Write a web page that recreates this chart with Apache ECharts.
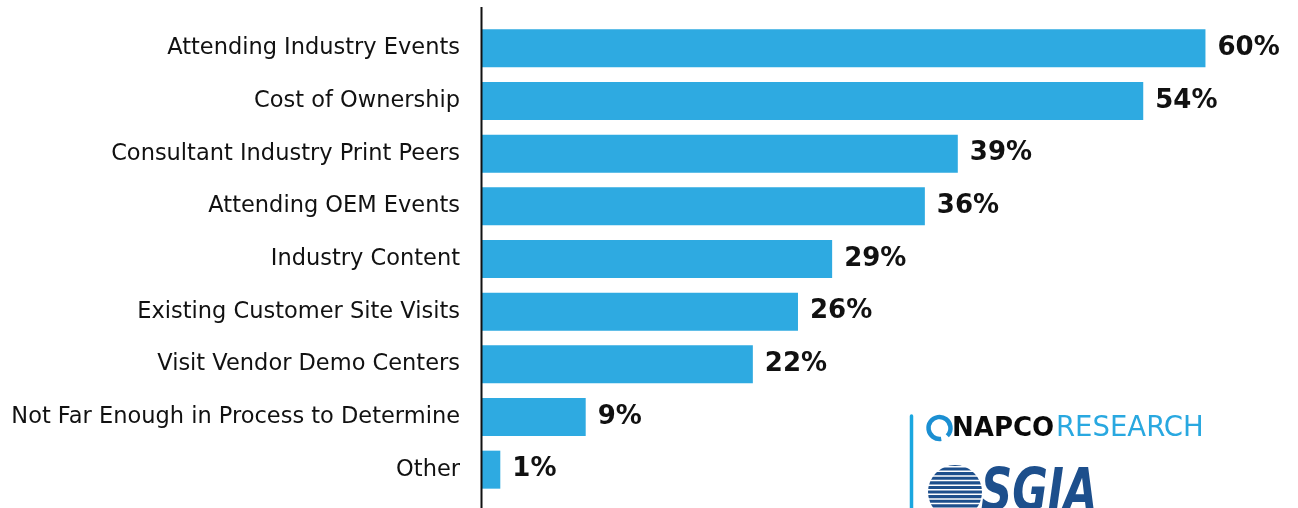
<!DOCTYPE html>
<html>
<head>
<meta charset="utf-8">
<script src="https://cdn.jsdelivr.net/npm/echarts@6/dist/echarts.min.js"></script>
<style>
  html, body { margin: 0; padding: 0; background: #ffffff; }
  #chart { width: 1298px; height: 508px; }
</style>
</head>
<body>
<div id="chart"></div>
<script>
// Categories (top to bottom)
const categories = [
  'Attending Industry Events',
  'Cost of Ownership',
  'Consultant Industry Print Peers',
  'Attending OEM Events',
  'Industry Content',
  'Existing Customer Site Visits',
  'Visit Vendor Demo Centers',
  'Not Far Enough in Process to Determine',
  'Other'
];
// Bar lengths (percent)
const values = [59.3, 54.2, 39.0, 36.3, 28.7, 25.9, 22.2, 8.5, 1.5];
// Printed value labels
const valueLabels = ['60%', '54%', '39%', '36%', '29%', '26%', '22%', '9%', '1%'];

const chart = echarts.init(document.getElementById('chart'), null, { renderer: 'canvas' });

const globeStripes = [];
for (let i = 0; i < 10; i++) {
  globeStripes.push({
    type: 'rect',
    shape: { x: 924, y: 466 + i * 4.6, width: 64, height: 1.5 },
    style: { fill: '#ffffff' },
    z: 12
  });
}

chart.setOption({
  animation: false,
  backgroundColor: '#ffffff',
  grid: { left: 482, right: 23, top: 22, bottom: 12, containLabel: false },
  xAxis: {
    type: 'value',
    min: 0,
    max: 65,
    show: false
  },
  yAxis: {
    type: 'category',
    inverse: true,
    data: categories,
    axisLine: { show: false },
    axisTick: { show: false },
    splitLine: { show: false },
    axisLabel: {
      margin: 22,
      color: '#111111',
      fontSize: 22.5,
      fontFamily: 'DejaVu Sans',
      fontWeight: 'normal',
      padding: [0, 0, 4, 0]
    }
  },
  series: [{
    type: 'bar',
    data: values,
    barWidth: 38,
    itemStyle: { color: '#2eaae1' },
    label: {
      show: true,
      position: 'right',
      distance: 12,
      color: '#111111',
      fontSize: 26,
      fontWeight: 'bold',
      fontFamily: 'DejaVu Sans',
      formatter: p => valueLabels[p.dataIndex]
    }
  }],
  graphic: [
    // vertical axis line
    { type: 'line', shape: { x1: 481.5, y1: 7, x2: 481.5, y2: 508 },
      style: { stroke: '#111111', lineWidth: 2 }, z: 20 },
    // logo divider
    { type: 'line', shape: { x1: 911.5, y1: 416, x2: 911.5, y2: 508 },
      style: { stroke: '#1aa7e0', lineWidth: 3.5, lineCap: 'round' }, z: 10 },
    // NAPCO ring
    { type: 'arc', shape: { cx: 939.5, cy: 428, r: 11, startAngle: Math.PI * 0.45, endAngle: Math.PI * 2.25 },
      style: { stroke: '#1b8fd2', lineWidth: 4.5, fill: null }, z: 10 },
    { type: 'text', x: 952, y: 429,
      style: { text: 'NAPCO', fill: '#0a0a0a', fontSize: 26, fontWeight: 'bold',
        fontFamily: 'DejaVu Sans', verticalAlign: 'middle', align: 'left' }, z: 10 },
    { type: 'text', x: 1056, y: 429,
      style: { text: 'RESEARCH', fill: '#29a8e0', fontSize: 27.5, fontWeight: 'normal',
        fontFamily: 'DejaVu Sans', verticalAlign: 'middle', align: 'left' }, z: 10 },
    // SGIA globe
    { type: 'circle', shape: { cx: 955, cy: 492, r: 27 }, style: { fill: '#1d4f8c' }, z: 11 },
    ...globeStripes,
    { type: 'text', x: 981, y: 524, scaleX: 0.83, originX: 0, originY: 0,
      style: { text: 'SGIA', fill: '#1d4f8c', fontSize: 58, fontWeight: 'bold', fontStyle: 'italic',
        fontFamily: '"DejaVu Sans Condensed", "DejaVu Sans", "Liberation Sans"',
        verticalAlign: 'bottom', align: 'left' }, z: 13 }
  ]
});
</script>
</body>
</html>
